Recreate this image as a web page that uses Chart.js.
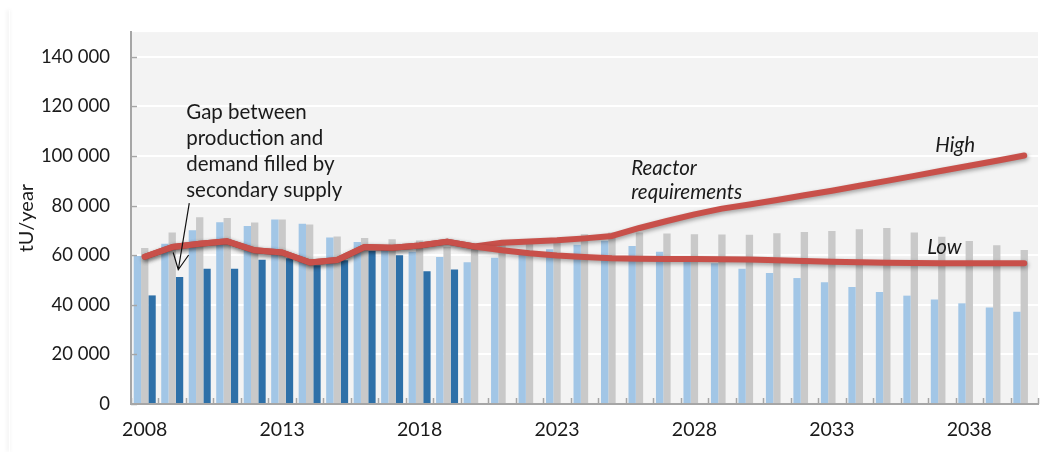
<!DOCTYPE html>
<html lang="en">
<head>
    <meta charset="UTF-8">
    <title>Uranium production and reactor requirements</title>
    <script src="https://cdn.jsdelivr.net/npm/chart.js@4/dist/chart.umd.min.js"></script>
    <style>
        body { margin: 0; background: #ffffff; }
        #wrap { position: relative; width: 1060px; height: 452px; }
        #edge { position: absolute; left: 9px; top: 10px; width: 1px; height: 442px; box-shadow: -1px 0 4px rgba(0, 0, 0, 0.18); }
    </style>
</head>
<body>
    <div id="wrap">
        <div id="edge"></div>
        <canvas id="myChart"></canvas>
    </div>

    <script>
        // Years on the category axis
        const years = [];
        for (let y = 2008; y <= 2040; y++) years.push(String(y));

        // Light blue bars
        const capability = [59700, 64600, 70100, 73300, 71800, 74400, 72700, 67200, 65300, 63300, 61400, 59300,
            57200, 59000, 61400, 62400, 64200, 65800, 63700, 61400, 58800, 56800, 54600, 52800, 50800, 49100,
            47200, 45200, 43700, 42100, 40600, 38900, 37200];

        // Grey bars
        const capacity = [62900, 69200, 75300, 75000, 73200, 74400, 72400, 67600, 67000, 66400, 65900, 63300,
            63000, 64000, 64600, 65500, 68500, 69200, 69200, 68800, 68500, 68400, 68300, 68900, 69400, 69800,
            70500, 71000, 69200, 67500, 65700, 64000, 62100];

        // Dark blue bars: actual production (2008-2019)
        const production = [43800, 51200, 54600, 54600, 58200, 58800, 56000, 58000, 61800, 60000, 53500, 54200,
            null, null, null, null, null, null, null, null, null, null, null, null, null, null, null, null, null,
            null, null, null, null];

        // Reactor requirements, high and low cases
        const high = [59400, 63300, 64600, 65600, 62000, 61100, 57100, 58100, 63300, 63000, 63900, 65500,
            63500, 65000, 65500, 66000, 66800, 67800, 71000, 73800, 76500, 78800, 80500, 82300, 84200, 86000,
            88000, 90000, 92000, 94100, 96100, 98100, 100200];
        const low = [59400, 63300, 64600, 65600, 62000, 61100, 57100, 58100, 63300, 63000, 63900, 65500,
            63500, 62000, 60800, 59900, 59300, 58800, 58600, 58500, 58500, 58400, 58300, 58000, 57700, 57400,
            57200, 57000, 56900, 56800, 56800, 56800, 56800];

        const yTicks = [0, 20000, 40000, 60000, 80000, 100000, 120000, 140000];

        const FONT = 'Lato, "Open Sans", sans-serif';
        const INK = '#1a1a1a';

        function spaced(v) {
            return String(v).replace(/\B(?=(\d{3})+(?!\d))/g, ' ');
        }

        // plot background, inside tick marks, line shadow and the text notes
        const decor = {
            id: 'decor',
            beforeDraw(chart) {
                const a = chart.chartArea;
                const ctx = chart.ctx;
                ctx.save();
                ctx.fillStyle = '#f3f3f3';
                ctx.fillRect(a.left, a.top, a.right - a.left, a.bottom - a.top);
                ctx.restore();
            },
            beforeDatasetDraw(chart, args) {
                if (args.meta.type === 'line') {
                    const ctx = chart.ctx;
                    ctx.save();
                    ctx.shadowColor = 'rgba(0, 0, 0, 0.35)';
                    ctx.shadowBlur = 4;
                    ctx.shadowOffsetX = 1;
                    ctx.shadowOffsetY = 2;
                }
            },
            afterDatasetDraw(chart, args) {
                if (args.meta.type === 'line') chart.ctx.restore();
            },
            afterDraw(chart) {
                const ctx = chart.ctx;
                const x = chart.scales.x;
                const y = chart.scales.y;
                const a = chart.chartArea;

                ctx.save();
                ctx.strokeStyle = '#a6a6a6';
                ctx.lineWidth = 1.5;
                ctx.beginPath();
                for (let i = 0; i <= years.length; i++) {
                    const px = Math.round(x.getPixelForValue(i - 0.5)) + 0.5;
                    ctx.moveTo(px, a.bottom);
                    ctx.lineTo(px, a.bottom - 6);
                }
                yTicks.forEach(v => {
                    const py = Math.round(y.getPixelForValue(v)) + 0.5;
                    ctx.moveTo(a.left, py);
                    ctx.lineTo(a.left + 6, py);
                });
                ctx.stroke();

                const pt = (i, v) => [x.getPixelForValue(i), y.getPixelForValue(v)];

                ctx.fillStyle = INK;
                ctx.textAlign = 'left';
                ctx.textBaseline = 'alphabetic';
                ctx.font = '20.5px ' + FONT;
                const gap = ['Gap between', 'production and', 'demand filled by', 'secondary supply'];
                const g = pt(1.51, 114800);
                gap.forEach((t, k) => ctx.fillText(t, g[0], g[1] + k * 25.8));

                ctx.font = 'italic 20.5px ' + FONT;
                let p = pt(17.7, 92300);
                ctx.fillText('Reactor', p[0], p[1]);
                p = pt(17.7, 82600);
                ctx.fillText('requirements', p[0], p[1]);
                p = pt(28.76, 101600);
                ctx.fillText('High', p[0], p[1]);
                p = pt(28.47, 60650);
                ctx.fillText('Low', p[0], p[1]);

                // arrow to the 2009 production bar
                const s = pt(1.62, 81000);
                const t = pt(1.22, 54150);
                const ang = Math.atan2(s[1] - t[1], s[0] - t[0]);
                ctx.strokeStyle = '#111111';
                ctx.lineWidth = 1.2;
                ctx.beginPath();
                ctx.moveTo(s[0], s[1]);
                ctx.lineTo(t[0], t[1]);
                ctx.moveTo(t[0] + 18 * Math.cos(ang - 0.45), t[1] + 18 * Math.sin(ang - 0.45));
                ctx.lineTo(t[0], t[1]);
                ctx.lineTo(t[0] + 18 * Math.cos(ang + 0.45), t[1] + 18 * Math.sin(ang + 0.45));
                ctx.stroke();
                ctx.restore();
            }
        };

        window.onload = function() {
            const ctx = document.getElementById('myChart').getContext('2d');

            new Chart(ctx, {
                type: 'bar',
                data: {
                    labels: years,
                    datasets: [
                        { label: 'Capability', data: capability, backgroundColor: '#a2c6e6', order: 2 },
                        { label: 'Capacity', data: capacity, backgroundColor: '#c9c9c9', order: 2 },
                        { label: 'Production', data: production, backgroundColor: '#2e70a8', order: 2 },
                        {
                            type: 'line', label: 'High', data: high, borderColor: '#c8504a', borderWidth: 6,
                            pointRadius: 0, borderCapStyle: 'round', borderJoinStyle: 'round', tension: 0,
                            fill: false, order: 1
                        },
                        {
                            type: 'line', label: 'Low', data: low, borderColor: '#c8504a', borderWidth: 6,
                            pointRadius: 0, borderCapStyle: 'round', borderJoinStyle: 'round', tension: 0,
                            fill: false, order: 0
                        }
                    ]
                },
                options: {
                    responsive: true,
                    maintainAspectRatio: false,
                    animation: false,
                    datasets: {
                        bar: { categoryPercentage: 0.8, barPercentage: 1.0 }
                    },
                    layout: { padding: { top: 19, right: 22, left: 0, bottom: 0 } },
                    plugins: {
                        legend: { display: false },
                        tooltip: { enabled: false }
                    },
                    scales: {
                        x: {
                            grid: { display: false, drawTicks: false },
                            border: { color: '#a6a6a6', width: 2 },
                            ticks: {
                                autoSkip: false,
                                maxRotation: 0,
                                padding: 14,
                                color: INK,
                                font: { family: FONT, size: 19.5 },
                                callback: (v, i) => (i % 5 === 0 ? years[i] : '')
                            },
                            afterFit: s => { s.height = 48; }
                        },
                        y: {
                            min: 0,
                            max: 150000,
                            afterBuildTicks: s => { s.ticks = yTicks.map(v => ({ value: v })); },
                            grid: { color: '#ffffff', lineWidth: 2, drawTicks: false },
                            border: { color: '#a6a6a6', width: 2 },
                            ticks: {
                                padding: 21,
                                color: INK,
                                font: { family: FONT, size: 18.5 },
                                callback: v => spaced(v)
                            },
                            title: {
                                display: true,
                                text: 'tU/year',
                                color: INK,
                                font: { family: FONT, size: 20 },
                                padding: { top: 15 }
                            },
                            afterFit: s => { s.width = 131; }
                        }
                    }
                },
                plugins: [decor]
            });
        };
    </script>
</body>
</html>
